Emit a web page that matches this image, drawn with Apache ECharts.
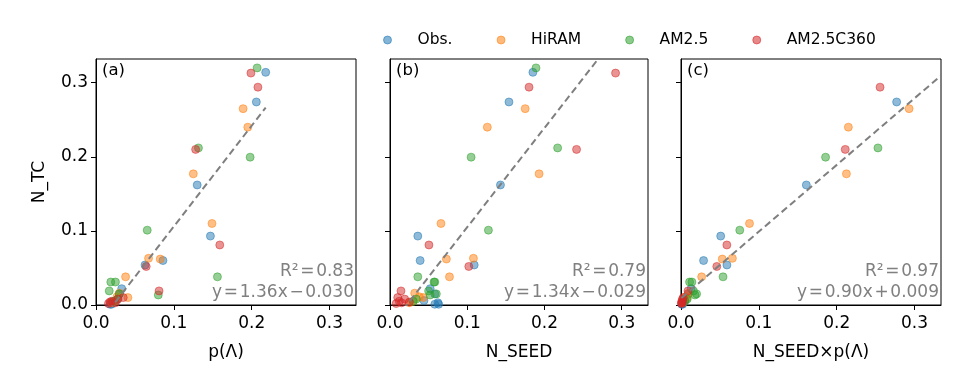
<!DOCTYPE html>
<html><head><meta charset="utf-8">
<script src="https://cdn.jsdelivr.net/npm/echarts@6/dist/echarts.min.js"></script>
<style>html,body{margin:0;padding:0;background:#fff}#c{width:960px;height:384px}</style>
</head><body><div id="c"></div>
<script>
// ---- data ----
const seriesNames = ['Obs.', 'HiRAM', 'AM2.5', 'AM2.5C360'];
const colors = ['#1f77b4', '#ff7f0e', '#2ca02c', '#d62728'];
const panelLabels = ['(a)', '(b)', '(c)'];
const xNames = ['p(Λ)', 'N_SEED', 'N_SEED×p(Λ)'];
const tickValues = [0, 0.1, 0.2, 0.3];
const r2Text = ['R²\u200A=\u200A0.83', 'R²\u200A=\u200A0.79', 'R²\u200A=\u200A0.97'];
const eqText = ['y\u200A=\u200A1.36x\u200A−\u200A0.030', 'y\u200A=\u200A1.34x\u200A−\u200A0.029', 'y\u200A=\u200A0.90x\u200A+\u200A0.009'];
const slopes = [1.36, 1.34, 0.90];
const intercepts = [-0.030, -0.029, 0.009];

// N_TC (y) per series
const ntcObs   = [0.314, 0.274, 0.162, 0.093, 0.060, 0.054, 0.022, 0.015, 0.006, 0.003, 0.001, 0.001];
const ntcHiRAM = [0.265, 0.240, 0.177, 0.110, 0.063, 0.062, 0.038, 0.010, 0.016, 0.011, 0.005, 0.003];
const ntcAM25  = [0.320, 0.212, 0.1995, 0.101, 0.038, 0.0135, 0.031, 0.031, 0.019, 0.015, 0.008, 0.005];
const ntcC360  = [0.313, 0.294, 0.210, 0.081, 0.052, 0.019, 0.010, 0.008, 0.005, 0.004, 0.003, 0.002];

// p(Lambda)
const pObs   = [0.218, 0.206, 0.130, 0.147, 0.086, 0.063, 0.033, 0.030, 0.025, 0.022, 0.020, 0.018];
const pHiRAM = [0.189, 0.195, 0.125, 0.149, 0.0675, 0.0825, 0.038, 0.041, 0.030, 0.027, 0.024, 0.020];
const pAM25  = [0.207, 0.1316, 0.198, 0.0658, 0.156, 0.080, 0.019, 0.025, 0.017, 0.030, 0.028, 0.022];
const pC360  = [0.199, 0.208, 0.128, 0.159, 0.0645, 0.081, 0.035, 0.028, 0.020, 0.018, 0.025, 0.016];

// N_SEED
const seedObs   = [0.185, 0.154, 0.143, 0.036, 0.039, 0.109, 0.052, 0.058, 0.044, 0.062, 0.058, 0.063];
const seedHiRAM = [0.175, 0.126, 0.193, 0.066, 0.108, 0.073, 0.077, 0.043, 0.032, 0.038, 0.030, 0.025];
const seedAM25  = [0.189, 0.217, 0.105, 0.1274, 0.036, 0.052, 0.057, 0.058, 0.050, 0.060, 0.034, 0.030];
const seedC360  = [0.292, 0.180, 0.2415, 0.0504, 0.102, 0.0142, 0.010, 0.019, 0.012, 0.025, 0.015, 0.008];

// N_SEED x p(Lambda)
const prodObs   = [0.345, 0.277, 0.161, 0.051, 0.029, 0.059, 0.013, 0.009, 0.005, 0.003, 0.002, 0.001];
const prodHiRAM = [0.293, 0.215, 0.2125, 0.088, 0.066, 0.053, 0.0265, 0.008, 0.010, 0.006, 0.003, 0.002];
const prodAM25  = [0.360, 0.253, 0.1857, 0.0755, 0.054, 0.018, 0.011, 0.014, 0.016, 0.020, 0.008, 0.005];
const prodC360  = [0.350, 0.2557, 0.211, 0.0589, 0.046, 0.009, 0.003, 0.002, 0.001, 0.002, 0.001, 0.0005];

// ---- build ----
const ntc = [ntcObs, ntcHiRAM, ntcAM25, ntcC360];
const xs = [
  [pObs, pHiRAM, pAM25, pC360],
  [seedObs, seedHiRAM, seedAM25, seedC360],
  [prodObs, prodHiRAM, prodAM25, prodC360]
];
const FONT = 'DejaVu Sans';
const FS = 17;
const grids = [
  {left: 96, top: 59, width: 260, height: 246},
  {left: 390, top: 59, width: 258, height: 246},
  {left: 681, top: 59, width: 260, height: 246}
];
const XMAX = 0.334, YMAX = 0.332;
const fmt = v => v.toFixed(1);

const option = {
  animation: false,
  backgroundColor: '#fff',
  textStyle: {fontFamily: FONT},
  legend: {
    data: seriesNames, left: 383, top: 32, padding: 0, itemGap: 44,
    itemWidth: 50, itemHeight: 8, icon: 'circle',
    itemStyle: {opacity: 0.55, borderWidth: 1},
    textStyle: {fontSize: 15.5, color: '#000', fontFamily: FONT}
  },
  grid: grids.map(g => Object.assign({show: true, borderColor: '#000', borderWidth: 1, backgroundColor: 'transparent'}, g)),
  xAxis: grids.map((g, i) => ({
    gridIndex: i, type: 'value', min: 0, max: XMAX,
    name: xNames[i], nameLocation: 'middle', nameGap: 39,
    nameTextStyle: {fontSize: FS, color: '#000', fontFamily: FONT},
    axisLine: {show: true, onZero: false, lineStyle: {color: '#000', width: 1}},
    axisTick: {show: true, length: 5, customValues: tickValues, lineStyle: {color: '#000'}},
    axisLabel: {customValues: tickValues, formatter: fmt, fontSize: FS, color: '#000', margin: 10, fontFamily: FONT},
    splitLine: {show: false}
  })),
  yAxis: grids.map((g, i) => ({
    gridIndex: i, type: 'value', min: 0, max: YMAX,
    name: i === 0 ? 'N_TC' : '', nameLocation: 'middle', nameGap: 48,
    nameTextStyle: {fontSize: FS, color: '#000', fontFamily: FONT},
    axisLine: {show: true, onZero: false, lineStyle: {color: '#000', width: 1}},
    axisTick: {show: true, length: 5, customValues: tickValues, lineStyle: {color: '#000'}},
    axisLabel: {show: i === 0, customValues: tickValues, formatter: fmt, fontSize: FS, color: '#000', margin: 8, fontFamily: FONT},
    splitLine: {show: false}
  })),
  series: [],
  graphic: []
};

for (let p = 0; p < 3; p++) {
  for (let s = 0; s < 4; s++) {
    option.series.push({
      type: 'scatter', name: seriesNames[s], xAxisIndex: p, yAxisIndex: p,
      symbol: 'circle', symbolSize: 8, clip: true,
      itemStyle: {color: colors[s], borderColor: colors[s], borderWidth: 1, opacity: 0.5},
      data: xs[p][s].map((x, k) => [x, ntc[s][k]])
    });
  }
  const all = [].concat(...xs[p]);
  const x0 = Math.min(...all), x1 = Math.max(...all);
  option.series.push({
    type: 'line', name: 'fit' + p, xAxisIndex: p, yAxisIndex: p, clip: true,
    symbol: 'none', silent: true, z: 3,
    lineStyle: {color: '#7f7f7f', width: 2, type: [7, 4]},
    data: [[x0, slopes[p] * x0 + intercepts[p]], [x1, slopes[p] * x1 + intercepts[p]]]
  });
  const g = grids[p];
  const right = g.left + g.width - 2;
  option.graphic.push(
    {type: 'text', x: right, y: 272, style: {text: r2Text[p], fill: '#808080', fontSize: FS, fontFamily: FONT, align: 'right', verticalAlign: 'middle'}},
    {type: 'text', x: right, y: 293, style: {text: eqText[p], fill: '#808080', fontSize: FS, fontFamily: FONT, align: 'right', verticalAlign: 'middle'}},
    {type: 'text', x: g.left + 6, y: 71, style: {text: panelLabels[p], fill: '#000', fontSize: 16.5, fontFamily: FONT, align: 'left', verticalAlign: 'middle'}}
  );
}

const chart = echarts.init(document.getElementById('c'), null, {renderer: 'canvas'});
chart.setOption(option);
</script></body></html>
